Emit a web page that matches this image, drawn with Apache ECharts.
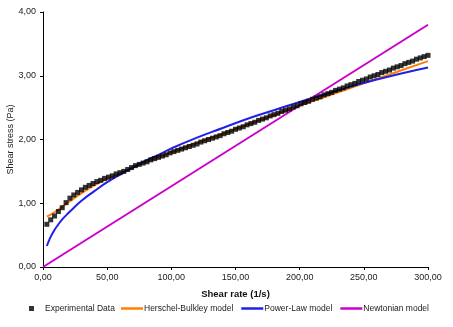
<!DOCTYPE html>
<html>
<head>
<meta charset="utf-8">
<script src="https://cdn.jsdelivr.net/npm/echarts@6/dist/echarts.min.js"></script>
<style>
  html, body { margin: 0; padding: 0; background: #fff; }
  #chart { width: 453px; height: 327px; }
</style>
</head>
<body>
<div id="chart"></div>
<script>
// Measured flow curve: shear rate (1/s) and shear stress (Pa)
const expRate = [
  3, 6, 9, 12, 15, 18, 21, 24, 27, 30, 33, 36, 39, 42, 45, 48, 51, 54, 57, 60,
  63, 66, 69, 72, 75, 78, 81, 84, 87, 90, 93, 96, 99, 102, 105, 108, 111, 114, 117, 120,
  123, 126, 129, 132, 135, 138, 141, 144, 147, 150, 153, 156, 159, 162, 165, 168, 171, 174, 177, 180,
  183, 186, 189, 192, 195, 198, 201, 204, 207, 210, 213, 216, 219, 222, 225, 228, 231, 234, 237, 240,
  243, 246, 249, 252, 255, 258, 261, 264, 267, 270, 273, 276, 279, 282, 285, 288, 291, 294, 297, 300
];
const expStress = [
  0.67, 0.74, 0.80, 0.87, 0.93, 1.01, 1.08, 1.13, 1.17, 1.21, 1.25, 1.28, 1.31, 1.34, 1.36, 1.39, 1.41, 1.43, 1.46, 1.48,
  1.50, 1.53, 1.56, 1.59, 1.61, 1.63, 1.65, 1.68, 1.70, 1.72, 1.74, 1.76, 1.79, 1.81, 1.83, 1.85, 1.87, 1.89, 1.91, 1.93,
  1.96, 1.98, 2.00, 2.02, 2.04, 2.06, 2.09, 2.11, 2.13, 2.16, 2.18, 2.20, 2.23, 2.25, 2.27, 2.30, 2.32, 2.34, 2.37, 2.39,
  2.41, 2.44, 2.46, 2.48, 2.51, 2.53, 2.56, 2.58, 2.60, 2.63, 2.65, 2.67, 2.70, 2.72, 2.74, 2.77, 2.79, 2.81, 2.84, 2.86,
  2.88, 2.91, 2.93, 2.95, 2.98, 3.00, 3.02, 3.05, 3.07, 3.09, 3.12, 3.14, 3.16, 3.19, 3.21, 3.23, 3.26, 3.28, 3.30, 3.32
];

// Herschel-Bulkley fit
const hbRate   = [3, 10, 20, 30, 40, 50, 60, 70, 80, 100, 120, 140, 160, 180, 200, 220, 240, 260, 280, 300];
const hbStress = [0.79, 0.87, 1.02, 1.16, 1.28, 1.38, 1.47, 1.56, 1.64, 1.80, 1.95, 2.09, 2.24, 2.38, 2.53, 2.67, 2.81, 2.95, 3.09, 3.23];

// Power-law fit
const plRate   = [3, 5, 8, 12, 16, 20, 25, 30, 40, 50, 60, 70, 80, 90, 100, 120, 140, 160, 180, 200, 220, 240, 260, 280, 300];
const plStress = [0.33, 0.43, 0.55, 0.67, 0.77, 0.85, 0.95, 1.04, 1.19, 1.33, 1.45, 1.56, 1.67, 1.76, 1.86, 2.03, 2.18, 2.33, 2.46, 2.59, 2.71, 2.83, 2.94, 3.04, 3.13];

// Newtonian fit
const nwRate   = [0, 300];
const nwStress = [0, 3.80];

const xTicks = { min: 0, max: 300, interval: 50 };
const yTicks = { min: 0, max: 4, interval: 1 };

const pairs = (xs, ys) => xs.map((x, i) => [x, ys[i]]);
const fmt = v => v.toFixed(2).replace('.', ',');

const FONT = 'Liberation Sans, Arial, sans-serif';
const C_HB = '#ff8000';
const C_PL = '#2020e8';
const C_NW = '#cc00cc';

const chart = echarts.init(document.getElementById('chart'), null, { renderer: 'canvas' });

chart.setOption({
  animation: false,
  backgroundColor: '#ffffff',
  textStyle: { fontFamily: FONT },
  grid: { left: 43, right: 25, top: 12, bottom: 60, containLabel: false, outerBoundsMode: 'none' },
  xAxis: {
    type: 'value',
    min: xTicks.min, max: xTicks.max, interval: xTicks.interval,
    name: 'Shear rate (1/s)',
    nameLocation: 'middle',
    nameGap: 22,
    nameMoveOverlap: false,
    nameTextStyle: { fontFamily: FONT, fontSize: 9.5, fontWeight: 'bold', color: '#111' },
    axisLine: { show: true, lineStyle: { color: '#000', width: 1 } },
    axisTick: { show: true, inside: false, length: 3, lineStyle: { color: '#000' } },
    axisLabel: { formatter: fmt, fontFamily: FONT, fontSize: 9, color: '#222', margin: 6 },
    splitLine: { show: false }
  },
  yAxis: {
    type: 'value',
    min: yTicks.min, max: yTicks.max, interval: yTicks.interval,
    name: 'Shear stress (Pa)',
    nameLocation: 'middle',
    nameGap: 28,
    nameMoveOverlap: false,
    nameRotate: 90,
    nameTextStyle: { fontFamily: FONT, fontSize: 9, color: '#222' },
    axisLine: { show: true, lineStyle: { color: '#000', width: 1 } },
    axisTick: { show: true, inside: false, length: 3, lineStyle: { color: '#000' } },
    axisLabel: { formatter: fmt, fontFamily: FONT, fontSize: 9, color: '#222', margin: 7 },
    splitLine: { show: false }
  },
  legend: [
    {
      data: [{ name: 'Experimental Data', icon: 'rect' }],
      left: 29, top: 304, padding: 0,
      itemWidth: 5, itemHeight: 5,
      textStyle: { fontFamily: FONT, fontSize: 8.5, color: '#222', padding: [0, 0, 0, 6] }
    },
    {
      data: [
        { name: 'Herschel-Bulkley model', icon: 'rect' },
        { name: 'Power-Law model', icon: 'rect' },
        { name: 'Newtonian model', icon: 'rect' }
      ],
      left: 121, top: 304, padding: 0,
      itemWidth: 22, itemHeight: 2.5,
      itemGap: 8,
      textStyle: { fontFamily: FONT, fontSize: 8.5, color: '#222', padding: [0, 0, 0, -4] }
    }
  ],
  series: [
    {
      name: 'Herschel-Bulkley model', type: 'line', smooth: true, showSymbol: false,
      data: pairs(hbRate, hbStress), z: 2,
      itemStyle: { color: C_HB }, lineStyle: { color: C_HB, width: 2 }
    },
    {
      name: 'Power-Law model', type: 'line', smooth: true, showSymbol: false,
      data: pairs(plRate, plStress), z: 2,
      itemStyle: { color: C_PL }, lineStyle: { color: C_PL, width: 2 }
    },
    {
      name: 'Newtonian model', type: 'line', showSymbol: false,
      data: pairs(nwRate, nwStress), z: 2,
      itemStyle: { color: C_NW }, lineStyle: { color: C_NW, width: 2 }
    },
    {
      name: 'Experimental Data', type: 'scatter', symbol: 'rect', symbolSize: 5,
      data: pairs(expRate, expStress), z: 3,
      itemStyle: { color: '#000' }
    }
  ]
});
</script>
</body>
</html>
